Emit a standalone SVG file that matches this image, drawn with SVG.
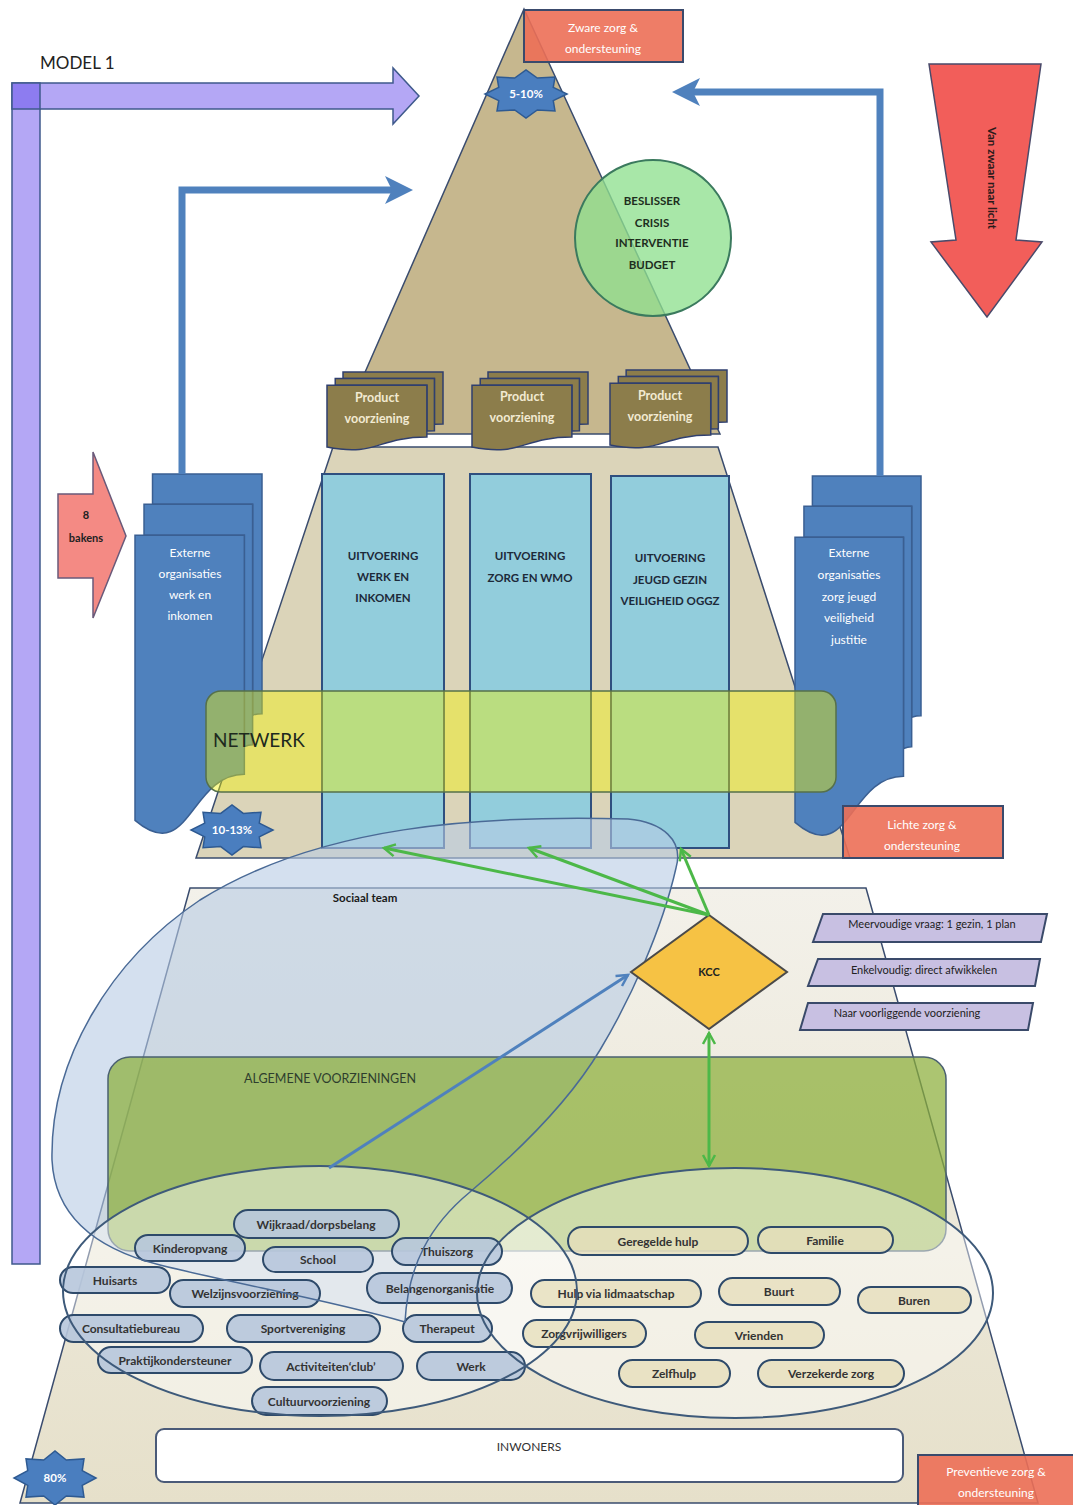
<svg xmlns="http://www.w3.org/2000/svg" width="1073" height="1505" viewBox="0 0 1073 1505">
<defs>
<style>
text{font-family:Lato,"Liberation Sans","DejaVu Sans",sans-serif}
.ln{stroke:#3a4c6e;stroke-width:1.5}
.red{fill:#ec6f57;fill-opacity:.9;stroke:#3a4a6c;stroke-width:2}
.wt{fill:#fff;font-size:12px;text-anchor:middle}
.star{fill:#4a7ebf;stroke:#2e5a92;stroke-width:1.5}
.st{fill:#fff;font-size:11.5px;text-anchor:middle;font-weight:bold}
.col{fill:#92cddc;stroke:#2f4f7f;stroke-width:2}
.ct{fill:#1d2a3a;font-size:11.5px;text-anchor:middle;font-weight:bold}
.dt{fill:#fff;font-size:12px;text-anchor:middle}
.prt{fill:#f2ead2;font-size:12.5px;text-anchor:middle;font-weight:bold}
.pl{fill:#b7c7db;fill-opacity:.9;stroke:#2e4a6a;stroke-width:2}
.pr{fill:#e6dfbc;fill-opacity:.8;stroke:#2e4a6a;stroke-width:2}
.pt{font-size:12px;fill:#333;text-anchor:middle;font-weight:bold}
.para{fill:#c8c0e2;stroke:#3a4a6a;stroke-width:2}
.pat{font-size:11px;fill:#222;text-anchor:middle}
.gl{stroke:#4cb848;stroke-width:3;fill:none;marker-end:url(#gArr)}
</style>
<linearGradient id="gLow" x1="0" y1="0" x2="0" y2="1">
<stop offset="0" stop-color="#f3f1ea"/>
<stop offset="1" stop-color="#e6e0ca"/>
</linearGradient>
<polygon id="star8" vector-effect="non-scaling-stroke" points="1,0 0.665,0.2755 0.7071,0.7071 0.2755,0.665 0,1 -0.2755,0.665 -0.7071,0.7071 -0.665,0.2755 -1,0 -0.665,-0.2755 -0.7071,-0.7071 -0.2755,-0.665 0,-1 0.2755,-0.665 0.7071,-0.7071 0.665,-0.2755"/>
<g id="mdoc">
<path vector-effect="non-scaling-stroke" d="M138,84 L138,0 L1000,0 L1000,666 C963,666 926,670 926,670 L926,84 Z"/>
<path vector-effect="non-scaling-stroke" d="M71,170 L71,84 L926,84 L926,752 C894,752 861,757 861,757 L861,170 Z"/>
<path vector-effect="non-scaling-stroke" d="M0,962 C430,1090 430,834 861,834 L861,170 L0,170 Z"/>
</g>
<marker id="bArr" markerUnits="userSpaceOnUse" viewBox="0 0 30 30" markerWidth="30" markerHeight="30" refX="18" refY="15" orient="auto"><path d="M0,1 L28,15 L0,29 L7,15 Z" fill="#4f81bd"/></marker>
<marker id="gArr" markerUnits="userSpaceOnUse" viewBox="0 0 16 16" markerWidth="16" markerHeight="16" refX="13" refY="8" orient="auto-start-reverse"><path d="M2,2 L13,8 L2,14" fill="none" stroke="#4cb848" stroke-width="2.5"/></marker>
<marker id="kArr" markerUnits="userSpaceOnUse" viewBox="0 0 16 16" markerWidth="16" markerHeight="16" refX="13" refY="8" orient="auto"><path d="M2,2 L13,8 L2,14" fill="none" stroke="#4f81bd" stroke-width="2.5"/></marker>
</defs>
<rect width="1073" height="1505" fill="#fff"/>

<g id="model-label"><text x="40" y="69" font-size="17" fill="#222">MODEL 1</text></g>

<g id="purple-arrow">
<path d="M12,83 H393 V68 L419,96 L393,124 V109 H40 V1264 H12 Z" fill="#b4a7f5" stroke="#3f5a8c" stroke-width="1.5"/>
<rect x="12" y="83" width="28" height="26" fill="#8d7cf0" stroke="#3f5a8c" stroke-width="1.5"/>
</g>

<g id="top-triangle"><polygon points="524,9 720,434 338,434" fill="#c6b78e" class="ln"/></g>

<g id="beslisser">
<circle cx="653" cy="238" r="78" fill="#8fe08f" fill-opacity=".78" stroke="#3b7a5e" stroke-width="2"/>
<g font-size="11.5" font-weight="bold" fill="#1e2e1e" text-anchor="middle">
<text x="652" y="205">BESLISSER</text><text x="652" y="227">CRISIS</text><text x="652" y="247">INTERVENTIE</text><text x="652" y="269">BUDGET</text>
</g>
</g>

<g id="zware-zorg"><rect x="524" y="10" width="159" height="52" class="red"/><text x="603" y="32" class="wt">Zware zorg &amp;</text><text x="603" y="53" class="wt">ondersteuning</text></g>

<g id="star-5-10"><use href="#star8" class="star" transform="translate(526,94) scale(41,24)"/><text x="526" y="98" class="st">5-10%</text></g>

<g id="van-zwaar-naar-licht">
<polygon points="929,64 1041,64 1016,240 1042,242 987,317 931,242 956,240" fill="#f25e5a" stroke="#4a4a6a" stroke-width="1.5"/>
<text transform="translate(988,178) rotate(90)" text-anchor="middle" font-size="11.5" font-weight="bold" fill="#2a1a1a">Van zwaar naar licht</text>
</g>

<g id="middle-trapezoid"><polygon points="333,447 718,447 850,858 196,858" fill="#dbd4b9" class="ln"/></g>

<g id="product-1"><use href="#mdoc" transform="translate(327,372) scale(.116,.078)" fill="#8c7d4b" stroke="#2f3f6f" stroke-width="1.5"/><text x="377" y="402" class="prt">Product</text><text x="377" y="423" class="prt">voorziening</text></g>
<g id="product-2"><use href="#mdoc" transform="translate(472,372) scale(.116,.078)" fill="#8c7d4b" stroke="#2f3f6f" stroke-width="1.5"/><text x="522" y="401" class="prt">Product</text><text x="522" y="422" class="prt">voorziening</text></g>
<g id="product-3"><use href="#mdoc" transform="translate(610,370) scale(.117,.078)" fill="#8c7d4b" stroke="#2f3f6f" stroke-width="1.5"/><text x="660" y="400" class="prt">Product</text><text x="660" y="421" class="prt">voorziening</text></g>

<g id="uitvoering-werk"><rect x="322" y="474" width="122" height="374" class="col"/><text x="383" y="560" class="ct">UITVOERING</text><text x="383" y="581" class="ct">WERK EN</text><text x="383" y="602" class="ct">INKOMEN</text></g>
<g id="uitvoering-zorg"><rect x="470" y="474" width="121" height="374" class="col"/><text x="530" y="560" class="ct">UITVOERING</text><text x="530" y="582" class="ct">ZORG EN WMO</text></g>
<g id="uitvoering-jeugd"><rect x="611" y="476" width="118" height="372" class="col"/><text x="670" y="562" class="ct">UITVOERING</text><text x="670" y="584" class="ct">JEUGD GEZIN</text><text x="670" y="605" class="ct">VEILIGHEID OGGZ</text></g>

<g id="externe-werk"><use href="#mdoc" transform="translate(135,474) scale(.127,.36)" fill="#4f81bd" stroke="#3a5f92" stroke-width="1.5"/>
<text x="190" y="557" class="dt">Externe</text><text x="190" y="578" class="dt">organisaties</text><text x="190" y="599" class="dt">werk en</text><text x="190" y="620" class="dt">inkomen</text></g>
<g id="externe-zorg"><use href="#mdoc" transform="translate(795,476) scale(.126,.36)" fill="#4f81bd" stroke="#3a5f92" stroke-width="1.5"/>
<text x="849" y="557" class="dt">Externe</text><text x="849" y="579" class="dt">organisaties</text><text x="849" y="601" class="dt">zorg jeugd</text><text x="849" y="622" class="dt">veiligheid</text><text x="849" y="644" class="dt">justitie</text></g>

<g id="bakens"><polygon points="58,494 93,494 93,452 126,536 93,618 93,578 58,578" fill="#f48a84" stroke="#6a5a7a" stroke-width="1.5"/>
<text x="86" y="519" font-size="11" text-anchor="middle" fill="#222" font-weight="bold">8</text><text x="86" y="542" font-size="11" text-anchor="middle" fill="#222" font-weight="bold">bakens</text></g>

<g id="netwerk"><rect x="206" y="691" width="630" height="101" rx="15" fill="#f2f200" fill-opacity=".42" stroke="#56704a" stroke-width="1.5"/><text x="213" y="747" font-size="19" fill="#1e2a1e">NETWERK</text></g>

<g id="star-10-13"><use href="#star8" class="star" transform="translate(232,830) scale(41,25)"/><text x="232" y="834" class="st">10-13%</text></g>

<g id="lichte-zorg"><rect x="843" y="806" width="160" height="52" class="red"/><text x="922" y="829" class="wt">Lichte zorg &amp;</text><text x="922" y="850" class="wt">ondersteuning</text></g>

<g id="sociaal-team"><polygon points="190,888 866,888 1038,1503 20,1503" fill="url(#gLow)" class="ln"/></g>

<g id="sociaal-team-ellipse-fill"><path d="M628,819 C662,822 684,840 676,868 C662,930 630,1000 600,1050 C570,1100 520,1150 470,1192 C430,1225 408,1265 405,1322 C330,1300 240,1285 160,1265 C100,1250 55,1220 52,1160 C50,1060 110,960 200,900 C320,825 480,815 628,819 Z" fill="#b8cce4" fill-opacity=".6"/></g>

<g id="sociaal-team-label"><text x="365" y="902" font-size="11.5" font-weight="bold" fill="#1a1a1a" text-anchor="middle">Sociaal team</text></g>

<g id="algemene-voorzieningen"><rect x="108" y="1057" width="838" height="194" rx="22" fill="#8cae3a" fill-opacity=".72" stroke="#4a6070" stroke-width="1.5"/><text x="330" y="1083" font-size="12.5" fill="#2e3e2e" text-anchor="middle">ALGEMENE VOORZIENINGEN</text></g>

<g id="bottom-ellipse-fills">
<ellipse cx="320" cy="1291" rx="257" ry="125" fill="#fff" fill-opacity=".45"/>
<ellipse cx="735" cy="1293" rx="258" ry="125" fill="#fff" fill-opacity=".45"/>
</g>

<g id="pills-left">
<g id="p-wijkraad"><rect x="234" y="1210" width="165" height="28" rx="14" class="pl"/><text x="316" y="1229" class="pt">Wijkraad/dorpsbelang</text></g>
<g id="p-kinderopvang"><rect x="135" y="1235" width="110" height="26" rx="13" class="pl"/><text x="190" y="1253" class="pt">Kinderopvang</text></g>
<g id="p-school"><rect x="263" y="1247" width="110" height="25" rx="12.5" class="pl"/><text x="318" y="1264" class="pt">School</text></g>
<g id="p-thuiszorg"><rect x="392" y="1238" width="110" height="27" rx="13.5" class="pl"/><text x="447" y="1256" class="pt">Thuiszorg</text></g>
<g id="p-huisarts"><rect x="60" y="1267" width="110" height="26" rx="13" class="pl"/><text x="115" y="1285" class="pt">Huisarts</text></g>
<g id="p-welzijn"><rect x="170" y="1280" width="150" height="27" rx="13.5" class="pl"/><text x="245" y="1298" class="pt">Welzijnsvoorziening</text></g>
<g id="p-belangen"><rect x="367" y="1273" width="145" height="30" rx="15" class="pl"/><text x="440" y="1293" class="pt">Belangenorganisatie</text></g>
<g id="p-consultatie"><rect x="60" y="1315" width="143" height="27" rx="13.5" class="pl"/><text x="131" y="1333" class="pt">Consultatiebureau</text></g>
<g id="p-sport"><rect x="227" y="1315" width="153" height="27" rx="13.5" class="pl"/><text x="303" y="1333" class="pt">Sportvereniging</text></g>
<g id="p-therapeut"><rect x="403" y="1315" width="89" height="27" rx="13.5" class="pl"/><text x="447" y="1333" class="pt">Therapeut</text></g>
<g id="p-praktijk"><rect x="98" y="1347" width="154" height="26" rx="13" class="pl"/><text x="175" y="1365" class="pt">Praktijkondersteuner</text></g>
<g id="p-activiteiten"><rect x="260" y="1352" width="143" height="28" rx="14" class="pl"/><text x="331" y="1371" class="pt">Activiteiten‘club’</text></g>
<g id="p-werk"><rect x="417" y="1352" width="108" height="28" rx="14" class="pl"/><text x="471" y="1371" class="pt">Werk</text></g>
<g id="p-cultuur"><rect x="252" y="1387" width="135" height="28" rx="14" class="pl"/><text x="319" y="1406" class="pt">Cultuurvoorziening</text></g>
</g>

<g id="pills-right">
<g id="p-geregelde"><rect x="568" y="1227" width="180" height="28" rx="14" class="pr"/><text x="658" y="1246" class="pt">Geregelde hulp</text></g>
<g id="p-familie"><rect x="758" y="1227" width="135" height="26" rx="13" class="pr"/><text x="825" y="1245" class="pt">Familie</text></g>
<g id="p-lidmaatschap"><rect x="531" y="1280" width="170" height="27" rx="13.5" class="pr"/><text x="616" y="1298" class="pt">Hulp via lidmaatschap</text></g>
<g id="p-buurt"><rect x="719" y="1278" width="121" height="27" rx="13.5" class="pr"/><text x="779" y="1296" class="pt">Buurt</text></g>
<g id="p-buren"><rect x="858" y="1287" width="113" height="26" rx="13" class="pr"/><text x="914" y="1305" class="pt">Buren</text></g>
<g id="p-zorgvrijwilligers"><rect x="523" y="1320" width="123" height="27" rx="13.5" class="pr"/><text x="584" y="1338" class="pt">Zorgvrijwilligers</text></g>
<g id="p-vrienden"><rect x="695" y="1322" width="129" height="26" rx="13" class="pr"/><text x="759" y="1340" class="pt">Vrienden</text></g>
<g id="p-zelfhulp"><rect x="619" y="1360" width="111" height="27" rx="13.5" class="pr"/><text x="674" y="1378" class="pt">Zelfhulp</text></g>
<g id="p-verzekerde"><rect x="758" y="1360" width="146" height="27" rx="13.5" class="pr"/><text x="831" y="1378" class="pt">Verzekerde zorg</text></g>
</g>

<g id="ellipse-outlines" fill="none">
<path d="M628,819 C662,822 684,840 676,868 C662,930 630,1000 600,1050 C570,1100 520,1150 470,1192 C430,1225 408,1265 405,1322 C330,1300 240,1285 160,1265 C100,1250 55,1220 52,1160 C50,1060 110,960 200,900 C320,825 480,815 628,819 Z" stroke="#4a6a96" stroke-width="1.5"/>
<ellipse cx="320" cy="1291" rx="257" ry="125" stroke="#3e5a7a" stroke-width="2"/>
<ellipse cx="735" cy="1293" rx="258" ry="125" stroke="#3e5a7a" stroke-width="2"/>
</g>

<g id="inwoners"><rect x="156" y="1429" width="747" height="53" rx="8" fill="#fff" stroke="#4a5a78" stroke-width="2"/><text x="529" y="1451" font-size="12" fill="#333" text-anchor="middle">INWONERS</text></g>

<g id="kcc"><polygon points="709,915 787,972 709,1029 631,972" fill="#f6c244" stroke="#4a4a4a" stroke-width="2"/><text x="709" y="976" font-size="11" font-weight="bold" fill="#222" text-anchor="middle">KCC</text></g>

<g id="meervoudig"><polygon points="823,914 1047,914 1041,942 813,942" class="para"/><text x="932" y="928" class="pat">Meervoudige vraag: 1 gezin, 1 plan</text></g>
<g id="enkelvoudig"><polygon points="818,959 1040,959 1035,986 808,986" class="para"/><text x="924" y="974" class="pat">Enkelvoudig: direct afwikkelen</text></g>
<g id="voorliggend"><polygon points="808,1003 1033,1003 1028,1030 800,1030" class="para"/><text x="907" y="1017" class="pat">Naar voorliggende voorziening</text></g>

<g id="star-80"><use href="#star8" class="star" transform="translate(55,1478) scale(41,27)"/><text x="55" y="1482" class="st">80%</text></g>

<g id="preventieve-zorg"><rect x="918" y="1455" width="160" height="52" class="red"/><text x="996" y="1476" class="wt">Preventieve zorg &amp;</text><text x="996" y="1497" class="wt">ondersteuning</text></g>

<g id="connectors">
<path d="M880,476 V92 H682" fill="none" stroke="#4f81bd" stroke-width="7" marker-end="url(#bArr)"/>
<path d="M182,474 V190 H403" fill="none" stroke="#4f81bd" stroke-width="7" marker-end="url(#bArr)"/>
<path d="M709,915 L384,848" class="gl"/>
<path d="M709,915 L529,848" class="gl"/>
<path d="M709,915 L681,849" class="gl"/>
<path d="M709,1033 V1166" fill="none" stroke="#4cb848" stroke-width="3" marker-start="url(#gArr)" marker-end="url(#gArr)"/>
<path d="M329,1168 L628,975" fill="none" stroke="#4f81bd" stroke-width="3" marker-end="url(#kArr)"/>
</g>
</svg>
